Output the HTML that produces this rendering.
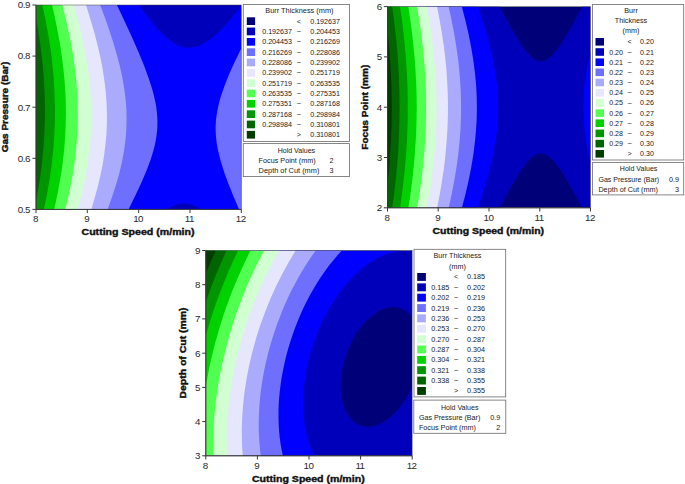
<!DOCTYPE html>
<html lang="en"><head><meta charset="utf-8"><title>Contour plots of Burr Thickness</title>
<style>
html,body{margin:0;padding:0;background:#fff}
svg{display:block;font-family:"Liberation Sans", sans-serif}
</style></head><body>
<svg width="685" height="484" viewBox="0 0 685 484">
<rect width="685" height="484" fill="#fff"/>
<clipPath id="c1"><rect x="36" y="5" width="205.3" height="204.4"/></clipPath>
<g clip-path="url(#c1)" shape-rendering="geometricPrecision">
<rect x="36" y="5" width="205.3" height="204.4" fill="#000078"/>
<path fill="#0000BA" d="M36.5 5.0L241.3 5.0L241.3 209.4L36.0 209.4L36.0 5.0Z"/>
<path fill="#0000FF" d="M36.5 5.0L138.9 5.0L146.6 15.6L153.3 24.0L156.9 28.2L160.0 31.5L163.1 34.6L166.2 37.4L169.3 39.9L172.4 42.1L175.4 43.9L178.0 45.2L181.1 46.4L183.7 47.1L186.2 47.5L188.8 47.7L191.4 47.6L194.5 47.1L197.0 46.4L200.1 45.3L202.7 44.0L205.8 42.3L208.9 40.2L212.0 37.9L215.1 35.3L218.7 32.0L221.7 28.9L225.3 25.1L229.0 21.1L233.1 16.3L241.3 6.0L241.3 209.4L201.2 209.4L199.1 208.0L196.5 206.6L194.5 205.7L192.4 204.9L190.4 204.2L188.3 203.8L186.2 203.5L184.2 203.4L182.1 203.5L180.1 203.7L178.0 204.1L175.4 204.9L173.4 205.7L170.8 206.8L166.4 209.4L36.0 209.4L36.0 5.0Z"/>
<path fill="#6E6EFF" d="M36.5 5.0L116.9 5.0L125.2 22.4L132.0 37.3L138.7 52.6L144.2 66.0L148.5 77.7L152.0 88.5L153.4 93.6L154.5 98.2L155.5 102.8L156.3 107.5L156.8 111.6L157.2 116.2L157.4 120.3L157.4 124.4L157.3 128.5L156.9 132.6L156.3 137.2L155.6 141.3L154.7 145.4L153.6 150.0L152.1 155.1L150.6 159.7L146.8 170.0L141.8 181.7L135.6 195.1L128.5 209.4L36.0 209.4L36.0 5.0ZM241.3 48.2L241.3 209.4L239.1 209.4L233.3 196.1L228.2 183.3L224.1 172.0L220.9 161.8L218.5 152.5L217.5 147.9L216.8 143.8L216.3 139.7L215.9 135.6L215.7 131.5L215.6 127.4L215.8 123.3L216.0 119.8L216.5 115.7L217.2 111.6L218.0 107.5L218.9 103.4L220.0 99.3L221.6 94.1L225.0 84.4L229.4 73.6L234.9 61.4Z"/>
<path fill="#AAAAFF" d="M36.5 5.0L100.1 5.0L104.4 16.3L108.2 27.0L112.8 40.9L116.6 53.7L119.7 65.4L122.3 77.2L124.2 88.5L125.6 99.3L126.4 109.5L126.6 119.8L126.3 130.0L125.9 135.6L125.4 140.8L124.0 151.0L122.0 161.8L119.4 173.0L116.0 184.8L112.2 196.6L107.6 209.4L36.0 209.4L36.0 5.0Z"/>
<path fill="#E6E6FF" d="M36.5 5.0L86.0 5.0L90.8 20.4L95.1 35.2L98.0 47.0L100.7 58.8L102.8 70.1L104.4 80.8L105.7 91.6L106.5 102.3L106.9 112.6L106.9 122.8L106.5 133.1L105.6 143.3L104.3 154.1L102.7 164.3L100.5 175.1L97.9 186.3L94.8 197.6L91.3 209.4L36.0 209.4L36.0 5.0Z"/>
<path fill="#D2FFD2" d="M36.5 5.0L73.5 5.0L76.7 16.3L79.5 27.0L81.9 37.3L84.1 47.5L86.1 58.3L87.8 68.5L89.1 78.8L90.1 89.0L90.8 99.3L91.2 109.0L91.3 118.7L91.0 128.5L90.4 138.2L89.6 147.9L88.3 158.2L86.8 167.9L85.0 178.2L82.8 188.4L80.3 198.6L77.5 209.4L36.0 209.4L36.0 5.0Z"/>
<path fill="#50FF50" d="M36.5 5.0L62.3 5.0L66.1 20.4L69.3 34.7L71.9 48.5L74.1 62.4L75.3 71.6L76.3 80.8L77.0 90.0L77.5 99.3L77.8 108.5L77.8 117.2L77.6 126.4L77.2 135.1L76.5 144.3L75.7 153.0L74.5 162.3L73.2 171.5L71.6 180.7L69.7 189.9L67.6 199.7L65.2 209.4L36.0 209.4L36.0 5.0Z"/>
<path fill="#00D200" d="M36.5 5.0L52.0 5.0L54.3 14.7L56.3 24.5L58.1 33.7L59.8 42.9L61.2 52.1L62.4 60.8L63.5 70.1L64.4 78.8L65.0 87.0L65.5 95.2L65.8 103.4L65.9 111.0L65.8 119.2L65.6 126.9L65.2 135.1L64.7 143.3L64.0 151.0L63.1 159.2L62.1 167.4L60.8 175.6L59.4 183.8L57.8 192.5L56.0 201.2L54.1 209.4L36.0 209.4L36.0 5.0Z"/>
<path fill="#009600" d="M36.5 5.0L42.4 5.0L45.4 19.3L47.3 29.6L49.0 39.3L50.5 49.1L51.7 58.8L52.8 68.5L53.6 77.7L54.3 87.5L54.7 96.7L55.0 110.5L54.8 124.4L54.2 138.2L53.1 152.0L51.5 165.9L49.5 180.2L47.0 194.5L43.9 209.4L36.0 209.4L36.0 5.0Z"/>
<path fill="#006400" d="M36.1 18.8L38.2 30.6L40.0 42.4L41.5 54.2L42.8 66.0L43.7 77.2L44.4 88.5L44.8 99.8L45.0 111.0L44.8 121.8L44.4 133.1L43.7 144.3L42.7 155.6L41.5 166.9L40.0 178.2L38.2 189.4L36.0 201.5L36.0 18.3Z"/>
</g>
<rect x="36" y="5" width="205.3" height="204.4" fill="none" stroke="#404040" stroke-opacity=".6" stroke-width=".8"/>
<path d="M36 5V209.4H241.3M36.0 209.4v3.7M87.3 209.4v3.7M138.7 209.4v3.7M190.0 209.4v3.7M241.3 209.4v3.7M36 5.0h-3.6M36 56.1h-3.6M36 107.2h-3.6M36 158.3h-3.6M36 209.4h-3.6" fill="none" stroke="#383838" stroke-width="1"/>
<text x="35.4" y="222.2" font-size="9.8" text-anchor="middle" fill="#2a2a2a" letter-spacing="-.55">8</text>
<text x="86.7" y="222.2" font-size="9.8" text-anchor="middle" fill="#2a2a2a" letter-spacing="-.55">9</text>
<text x="138.1" y="222.2" font-size="9.8" text-anchor="middle" fill="#2a2a2a" letter-spacing="-.55">10</text>
<text x="189.4" y="222.2" font-size="9.8" text-anchor="middle" fill="#2a2a2a" letter-spacing="-.55">11</text>
<text x="240.7" y="222.2" font-size="9.8" text-anchor="middle" fill="#2a2a2a" letter-spacing="-.55">12</text>
<text x="29.8" y="8.3" font-size="9.8" text-anchor="end" fill="#2a2a2a" letter-spacing="-.55">0.9</text>
<text x="29.8" y="59.4" font-size="9.8" text-anchor="end" fill="#2a2a2a" letter-spacing="-.55">0.8</text>
<text x="29.8" y="110.5" font-size="9.8" text-anchor="end" fill="#2a2a2a" letter-spacing="-.55">0.7</text>
<text x="29.8" y="161.6" font-size="9.8" text-anchor="end" fill="#2a2a2a" letter-spacing="-.55">0.6</text>
<text x="29.8" y="212.7" font-size="9.8" text-anchor="end" fill="#2a2a2a" letter-spacing="-.55">0.5</text>
<text x="138.0" y="234.8" font-size="9.4" text-anchor="middle" font-weight="bold" textLength="113.0" lengthAdjust="spacingAndGlyphs" fill="#111" stroke="#111" stroke-width=".4">Cutting Speed (m/min)</text>
<text x="6.3" y="107.0" font-size="9.4" text-anchor="middle" font-weight="bold" textLength="90.5" lengthAdjust="spacingAndGlyphs" fill="#111" stroke="#111" stroke-width=".4" transform="rotate(-90 6.3 107.0)" dy="2.1">Gas Pressure (Bar)</text>
<rect x="243.3" y="4.5" width="106.2" height="136.9" fill="#fff" stroke="#6a6a6a" stroke-width=".8"/>
<text x="299.4" y="12.9" font-size="8" text-anchor="middle" textLength="68.2" lengthAdjust="spacingAndGlyphs" fill="#1a1a1a">Burr Thickness (mm)</text>
<rect x="246.8" y="17.3" width="8.3" height="7.7" fill="#000078"/>
<text x="298.8" y="23.7" font-size="7.2" text-anchor="middle" fill="#1a1a1a">&lt;</text>
<text x="340.0" y="23.7" font-size="8" text-anchor="end" textLength="29.8" lengthAdjust="spacingAndGlyphs" fill="#1a1a1a">0.192637</text>
<rect x="246.8" y="27.6" width="8.3" height="7.7" fill="#0000BA"/>
<text x="262.2" y="34.0" font-size="8" textLength="29.8" lengthAdjust="spacingAndGlyphs" fill="#1a1a1a">0.192637</text>
<text x="298.8" y="33.1" font-size="6.8" text-anchor="middle" fill="#1a1a1a">–</text>
<text x="340.0" y="34.0" font-size="8" text-anchor="end" textLength="29.8" lengthAdjust="spacingAndGlyphs" fill="#1a1a1a">0.204453</text>
<rect x="246.8" y="38.0" width="8.3" height="7.7" fill="#0000FF"/>
<text x="262.2" y="44.3" font-size="8" textLength="29.8" lengthAdjust="spacingAndGlyphs" fill="#1a1a1a">0.204453</text>
<text x="298.8" y="43.4" font-size="6.8" text-anchor="middle" fill="#1a1a1a">–</text>
<text x="340.0" y="44.3" font-size="8" text-anchor="end" textLength="29.8" lengthAdjust="spacingAndGlyphs" fill="#1a1a1a">0.216269</text>
<rect x="246.8" y="48.3" width="8.3" height="7.7" fill="#6E6EFF"/>
<text x="262.2" y="54.6" font-size="8" textLength="29.8" lengthAdjust="spacingAndGlyphs" fill="#1a1a1a">0.216269</text>
<text x="298.8" y="53.7" font-size="6.8" text-anchor="middle" fill="#1a1a1a">–</text>
<text x="340.0" y="54.6" font-size="8" text-anchor="end" textLength="29.8" lengthAdjust="spacingAndGlyphs" fill="#1a1a1a">0.228086</text>
<rect x="246.8" y="58.6" width="8.3" height="7.7" fill="#AAAAFF"/>
<text x="262.2" y="65.0" font-size="8" textLength="29.8" lengthAdjust="spacingAndGlyphs" fill="#1a1a1a">0.228086</text>
<text x="298.8" y="64.1" font-size="6.8" text-anchor="middle" fill="#1a1a1a">–</text>
<text x="340.0" y="65.0" font-size="8" text-anchor="end" textLength="29.8" lengthAdjust="spacingAndGlyphs" fill="#1a1a1a">0.239902</text>
<rect x="246.8" y="69.0" width="8.3" height="7.7" fill="#E6E6FF"/>
<text x="262.2" y="75.3" font-size="8" textLength="29.8" lengthAdjust="spacingAndGlyphs" fill="#1a1a1a">0.239902</text>
<text x="298.8" y="74.4" font-size="6.8" text-anchor="middle" fill="#1a1a1a">–</text>
<text x="340.0" y="75.3" font-size="8" text-anchor="end" textLength="29.8" lengthAdjust="spacingAndGlyphs" fill="#1a1a1a">0.251719</text>
<rect x="246.8" y="79.3" width="8.3" height="7.7" fill="#D2FFD2"/>
<text x="262.2" y="85.6" font-size="8" textLength="29.8" lengthAdjust="spacingAndGlyphs" fill="#1a1a1a">0.251719</text>
<text x="298.8" y="84.7" font-size="6.8" text-anchor="middle" fill="#1a1a1a">–</text>
<text x="340.0" y="85.6" font-size="8" text-anchor="end" textLength="29.8" lengthAdjust="spacingAndGlyphs" fill="#1a1a1a">0.263535</text>
<rect x="246.8" y="89.6" width="8.3" height="7.7" fill="#50FF50"/>
<text x="262.2" y="96.0" font-size="8" textLength="29.8" lengthAdjust="spacingAndGlyphs" fill="#1a1a1a">0.263535</text>
<text x="298.8" y="95.1" font-size="6.8" text-anchor="middle" fill="#1a1a1a">–</text>
<text x="340.0" y="96.0" font-size="8" text-anchor="end" textLength="29.8" lengthAdjust="spacingAndGlyphs" fill="#1a1a1a">0.275351</text>
<rect x="246.8" y="99.9" width="8.3" height="7.7" fill="#00D200"/>
<text x="262.2" y="106.3" font-size="8" textLength="29.8" lengthAdjust="spacingAndGlyphs" fill="#1a1a1a">0.275351</text>
<text x="298.8" y="105.4" font-size="6.8" text-anchor="middle" fill="#1a1a1a">–</text>
<text x="340.0" y="106.3" font-size="8" text-anchor="end" textLength="29.8" lengthAdjust="spacingAndGlyphs" fill="#1a1a1a">0.287168</text>
<rect x="246.8" y="110.3" width="8.3" height="7.7" fill="#009600"/>
<text x="262.2" y="116.6" font-size="8" textLength="29.8" lengthAdjust="spacingAndGlyphs" fill="#1a1a1a">0.287168</text>
<text x="298.8" y="115.7" font-size="6.8" text-anchor="middle" fill="#1a1a1a">–</text>
<text x="340.0" y="116.6" font-size="8" text-anchor="end" textLength="29.8" lengthAdjust="spacingAndGlyphs" fill="#1a1a1a">0.298984</text>
<rect x="246.8" y="120.6" width="8.3" height="7.7" fill="#006400"/>
<text x="262.2" y="126.9" font-size="8" textLength="29.8" lengthAdjust="spacingAndGlyphs" fill="#1a1a1a">0.298984</text>
<text x="298.8" y="126.0" font-size="6.8" text-anchor="middle" fill="#1a1a1a">–</text>
<text x="340.0" y="126.9" font-size="8" text-anchor="end" textLength="29.8" lengthAdjust="spacingAndGlyphs" fill="#1a1a1a">0.310801</text>
<rect x="246.8" y="130.9" width="8.3" height="7.7" fill="#003C00"/>
<text x="298.8" y="137.3" font-size="7.2" text-anchor="middle" fill="#1a1a1a">&gt;</text>
<text x="340.0" y="137.3" font-size="8" text-anchor="end" textLength="29.8" lengthAdjust="spacingAndGlyphs" fill="#1a1a1a">0.310801</text>
<rect x="243.3" y="143.6" width="106.2" height="33.0" fill="#fff" stroke="#6a6a6a" stroke-width=".8"/>
<text x="296.4" y="152.8" font-size="8" text-anchor="middle" textLength="37.5" lengthAdjust="spacingAndGlyphs" fill="#1a1a1a">Hold Values</text>
<text x="258.6" y="163.0" font-size="8" textLength="57.1" lengthAdjust="spacingAndGlyphs" fill="#1a1a1a">Focus Point (mm)</text>
<text x="333.5" y="163.0" font-size="8" text-anchor="end" textLength="4.0" lengthAdjust="spacingAndGlyphs" fill="#1a1a1a">2</text>
<text x="258.6" y="172.9" font-size="8" textLength="60.8" lengthAdjust="spacingAndGlyphs" fill="#1a1a1a">Depth of Cut (mm)</text>
<text x="333.5" y="172.9" font-size="8" text-anchor="end" textLength="4.0" lengthAdjust="spacingAndGlyphs" fill="#1a1a1a">3</text>
<clipPath id="c2"><rect x="387.5" y="6.6" width="203.0" height="201.2"/></clipPath>
<g clip-path="url(#c2)" shape-rendering="geometricPrecision">
<rect x="387.5" y="6.6" width="203.0" height="201.2" fill="#000078"/>
<path fill="#0000BA" d="M388.0 6.6L499.5 6.6L507.1 20.8L513.7 32.6L519.3 41.8L521.8 45.6L524.4 49.1L526.9 52.3L528.9 54.6L531.0 56.6L533.0 58.3L535.0 59.7L537.1 60.6L539.1 61.2L540.6 61.3L542.2 61.2L544.2 60.7L546.2 59.8L548.3 58.5L550.3 56.8L552.3 54.9L554.4 52.6L556.9 49.4L559.5 45.9L562.0 42.1L567.6 33.0L574.2 21.2L582.0 6.6L590.5 6.6L590.5 207.8L581.8 207.8L574.2 193.5L567.6 181.7L562.0 172.6L559.5 168.8L556.9 165.3L554.4 162.1L552.3 159.9L550.3 157.9L548.3 156.3L546.2 155.0L544.2 154.0L542.2 153.5L540.6 153.4L539.1 153.6L537.1 154.1L535.0 155.1L533.0 156.4L531.0 158.1L528.9 160.1L526.9 162.4L524.4 165.6L521.8 169.2L519.3 173.0L513.7 182.1L507.1 193.9L499.7 207.8L387.5 207.8L387.5 6.6Z"/>
<path fill="#0000FF" d="M388.0 6.6L477.8 6.6L482.9 22.2L487.1 36.4L490.6 50.0L493.4 62.6L494.6 68.6L495.6 74.7L497.0 85.8L497.5 91.3L497.9 96.9L498.1 107.5L497.9 118.0L497.5 123.6L497.0 129.1L495.6 140.2L494.5 146.3L493.4 152.3L490.6 164.9L487.0 178.6L482.8 192.7L477.9 207.8L387.5 207.8L387.5 6.6ZM590.5 51.5L590.5 163.2L588.7 155.4L587.3 148.3L586.1 141.2L585.1 134.2L584.3 127.1L583.8 120.6L583.5 114.0L583.4 107.5L583.5 100.9L583.8 94.3L584.3 87.8L585.1 80.7L586.1 73.7L587.3 66.6L588.8 59.0Z"/>
<path fill="#6E6EFF" d="M388.0 6.6L461.8 6.6L465.5 20.7L468.6 34.3L471.2 47.4L473.2 59.5L474.8 71.6L476.0 83.8L476.7 95.9L476.9 107.5L476.7 119.1L476.0 130.6L474.8 142.8L473.3 154.9L471.2 167.5L468.7 180.1L465.6 193.7L461.9 207.8L387.5 207.8L387.5 6.6Z"/>
<path fill="#AAAAFF" d="M388.0 6.6L448.6 6.6L451.7 20.7L454.2 33.8L456.3 46.4L458.1 59.0L459.4 71.6L460.4 83.8L460.9 95.9L461.1 107.5L460.9 119.1L460.4 131.2L459.4 143.3L458.1 155.9L456.3 168.5L454.2 181.1L451.7 194.2L448.7 207.8L387.5 207.8L387.5 6.6Z"/>
<path fill="#E6E6FF" d="M388.0 6.6L437.0 6.6L439.6 19.7L441.8 32.8L443.8 45.9L445.3 58.5L446.5 70.6L447.3 83.2L447.8 95.3L448.0 107.5L447.8 119.6L447.3 131.7L446.4 144.3L445.3 156.4L443.8 169.0L441.9 181.6L439.7 194.7L437.1 207.8L387.5 207.8L387.5 6.6Z"/>
<path fill="#D2FFD2" d="M388.0 6.6L426.7 6.6L429.0 19.7L431.0 32.8L432.7 45.4L434.0 58.0L435.1 70.6L435.9 82.7L436.3 94.8L436.5 107.5L436.3 119.6L435.9 131.7L435.2 143.8L434.1 156.4L432.7 169.0L431.1 181.6L429.0 194.7L426.7 207.8L387.5 207.8L387.5 6.6Z"/>
<path fill="#50FF50" d="M388.0 6.6L417.1 6.6L419.9 24.2L421.5 35.8L422.9 47.4L424.0 59.0L424.9 70.6L425.5 81.7L426.0 93.3L426.1 104.4L426.1 115.5L425.8 126.6L425.3 138.2L424.5 149.8L423.5 160.9L422.3 172.5L420.8 184.1L419.2 195.7L417.2 207.8L387.5 207.8L387.5 6.6Z"/>
<path fill="#00D200" d="M388.0 6.6L408.3 6.6L409.8 16.7L411.2 26.8L412.5 36.9L413.5 46.4L414.5 56.5L415.3 66.6L415.8 76.2L416.3 86.3L416.6 96.4L416.7 106.4L416.6 116.0L416.4 126.1L416.0 136.2L415.4 146.3L414.6 156.4L413.7 166.5L412.7 176.5L411.4 187.1L410.0 197.2L408.4 207.8L387.5 207.8L387.5 6.6Z"/>
<path fill="#009600" d="M388.0 6.6L400.0 6.6L402.3 22.7L404.1 38.4L405.6 54.0L406.7 69.6L407.5 86.8L407.8 103.9L407.7 120.6L407.1 137.7L406.1 154.9L404.5 172.5L402.5 190.2L400.1 207.8L387.5 207.8L387.5 6.6Z"/>
<path fill="#006400" d="M388.0 6.6L392.2 6.6L393.4 15.7L395.8 35.3L397.6 55.0L398.8 74.2L399.4 93.3L399.6 107.5L399.4 121.6L399.0 135.7L398.3 149.8L397.2 163.9L395.9 178.6L394.2 193.2L392.2 207.8L387.5 207.8L387.5 6.6Z"/>
<path fill="#003C00" d="M387.5 29.3L389.4 49.0L390.7 68.6L391.5 88.3L391.8 107.5L391.5 126.6L390.7 146.3L389.4 165.9L387.5 185.7Z"/>
</g>
<rect x="387.5" y="6.6" width="203.0" height="201.2" fill="none" stroke="#404040" stroke-opacity=".6" stroke-width=".8"/>
<path d="M387.5 6.6V207.8H590.5M387.5 207.8v3.7M438.2 207.8v3.7M489.0 207.8v3.7M539.8 207.8v3.7M590.5 207.8v3.7M387.5 6.6h-3.6M387.5 56.9h-3.6M387.5 107.2h-3.6M387.5 157.5h-3.6M387.5 207.8h-3.6" fill="none" stroke="#383838" stroke-width="1"/>
<text x="386.9" y="220.8" font-size="9.8" text-anchor="middle" fill="#2a2a2a" letter-spacing="-.55">8</text>
<text x="437.6" y="220.8" font-size="9.8" text-anchor="middle" fill="#2a2a2a" letter-spacing="-.55">9</text>
<text x="488.4" y="220.8" font-size="9.8" text-anchor="middle" fill="#2a2a2a" letter-spacing="-.55">10</text>
<text x="539.1" y="220.8" font-size="9.8" text-anchor="middle" fill="#2a2a2a" letter-spacing="-.55">11</text>
<text x="589.9" y="220.8" font-size="9.8" text-anchor="middle" fill="#2a2a2a" letter-spacing="-.55">12</text>
<text x="381.6" y="9.9" font-size="9.8" text-anchor="end" fill="#2a2a2a" letter-spacing="-.55">6</text>
<text x="381.6" y="60.2" font-size="9.8" text-anchor="end" fill="#2a2a2a" letter-spacing="-.55">5</text>
<text x="381.6" y="110.5" font-size="9.8" text-anchor="end" fill="#2a2a2a" letter-spacing="-.55">4</text>
<text x="381.6" y="160.8" font-size="9.8" text-anchor="end" fill="#2a2a2a" letter-spacing="-.55">3</text>
<text x="381.6" y="211.1" font-size="9.8" text-anchor="end" fill="#2a2a2a" letter-spacing="-.55">2</text>
<text x="488.3" y="233.8" font-size="9.4" text-anchor="middle" font-weight="bold" textLength="111.6" lengthAdjust="spacingAndGlyphs" fill="#111" stroke="#111" stroke-width=".4">Cutting Speed (m/min)</text>
<text x="365.6" y="107.2" font-size="9.4" text-anchor="middle" font-weight="bold" textLength="85.0" lengthAdjust="spacingAndGlyphs" fill="#111" stroke="#111" stroke-width=".4" transform="rotate(-90 365.6 107.2)" dy="2.1">Focus Point (mm)</text>
<rect x="592.4" y="4.6" width="91.3" height="155.4" fill="#fff" stroke="#6a6a6a" stroke-width=".8"/>
<text x="631.0" y="13.2" font-size="8" text-anchor="middle" textLength="13.6" lengthAdjust="spacingAndGlyphs" fill="#1a1a1a">Burr</text>
<text x="631.0" y="23.1" font-size="8" text-anchor="middle" textLength="32.4" lengthAdjust="spacingAndGlyphs" fill="#1a1a1a">Thickness</text>
<text x="631.0" y="33.2" font-size="8" text-anchor="middle" textLength="16.8" lengthAdjust="spacingAndGlyphs" fill="#1a1a1a">(mm)</text>
<rect x="595.5" y="38.0" width="8.5" height="7.6" fill="#000078"/>
<text x="629.7" y="44.3" font-size="7.2" text-anchor="middle" fill="#1a1a1a">&lt;</text>
<text x="653.9" y="44.3" font-size="8" text-anchor="end" textLength="13.8" lengthAdjust="spacingAndGlyphs" fill="#1a1a1a">0.20</text>
<rect x="595.5" y="48.2" width="8.5" height="7.6" fill="#0000BA"/>
<text x="609.2" y="54.5" font-size="8" textLength="13.8" lengthAdjust="spacingAndGlyphs" fill="#1a1a1a">0.20</text>
<text x="629.7" y="53.6" font-size="6.8" text-anchor="middle" fill="#1a1a1a">–</text>
<text x="653.9" y="54.5" font-size="8" text-anchor="end" textLength="13.8" lengthAdjust="spacingAndGlyphs" fill="#1a1a1a">0.21</text>
<rect x="595.5" y="58.4" width="8.5" height="7.6" fill="#0000FF"/>
<text x="609.2" y="64.7" font-size="8" textLength="13.8" lengthAdjust="spacingAndGlyphs" fill="#1a1a1a">0.21</text>
<text x="629.7" y="63.8" font-size="6.8" text-anchor="middle" fill="#1a1a1a">–</text>
<text x="653.9" y="64.7" font-size="8" text-anchor="end" textLength="13.8" lengthAdjust="spacingAndGlyphs" fill="#1a1a1a">0.22</text>
<rect x="595.5" y="68.5" width="8.5" height="7.6" fill="#6E6EFF"/>
<text x="609.2" y="74.8" font-size="8" textLength="13.8" lengthAdjust="spacingAndGlyphs" fill="#1a1a1a">0.22</text>
<text x="629.7" y="73.9" font-size="6.8" text-anchor="middle" fill="#1a1a1a">–</text>
<text x="653.9" y="74.8" font-size="8" text-anchor="end" textLength="13.8" lengthAdjust="spacingAndGlyphs" fill="#1a1a1a">0.23</text>
<rect x="595.5" y="78.7" width="8.5" height="7.6" fill="#AAAAFF"/>
<text x="609.2" y="85.0" font-size="8" textLength="13.8" lengthAdjust="spacingAndGlyphs" fill="#1a1a1a">0.23</text>
<text x="629.7" y="84.1" font-size="6.8" text-anchor="middle" fill="#1a1a1a">–</text>
<text x="653.9" y="85.0" font-size="8" text-anchor="end" textLength="13.8" lengthAdjust="spacingAndGlyphs" fill="#1a1a1a">0.24</text>
<rect x="595.5" y="88.9" width="8.5" height="7.6" fill="#E6E6FF"/>
<text x="609.2" y="95.2" font-size="8" textLength="13.8" lengthAdjust="spacingAndGlyphs" fill="#1a1a1a">0.24</text>
<text x="629.7" y="94.3" font-size="6.8" text-anchor="middle" fill="#1a1a1a">–</text>
<text x="653.9" y="95.2" font-size="8" text-anchor="end" textLength="13.8" lengthAdjust="spacingAndGlyphs" fill="#1a1a1a">0.25</text>
<rect x="595.5" y="99.1" width="8.5" height="7.6" fill="#D2FFD2"/>
<text x="609.2" y="105.4" font-size="8" textLength="13.8" lengthAdjust="spacingAndGlyphs" fill="#1a1a1a">0.25</text>
<text x="629.7" y="104.5" font-size="6.8" text-anchor="middle" fill="#1a1a1a">–</text>
<text x="653.9" y="105.4" font-size="8" text-anchor="end" textLength="13.8" lengthAdjust="spacingAndGlyphs" fill="#1a1a1a">0.26</text>
<rect x="595.5" y="109.3" width="8.5" height="7.6" fill="#50FF50"/>
<text x="609.2" y="115.6" font-size="8" textLength="13.8" lengthAdjust="spacingAndGlyphs" fill="#1a1a1a">0.26</text>
<text x="629.7" y="114.7" font-size="6.8" text-anchor="middle" fill="#1a1a1a">–</text>
<text x="653.9" y="115.6" font-size="8" text-anchor="end" textLength="13.8" lengthAdjust="spacingAndGlyphs" fill="#1a1a1a">0.27</text>
<rect x="595.5" y="119.4" width="8.5" height="7.6" fill="#00D200"/>
<text x="609.2" y="125.7" font-size="8" textLength="13.8" lengthAdjust="spacingAndGlyphs" fill="#1a1a1a">0.27</text>
<text x="629.7" y="124.8" font-size="6.8" text-anchor="middle" fill="#1a1a1a">–</text>
<text x="653.9" y="125.7" font-size="8" text-anchor="end" textLength="13.8" lengthAdjust="spacingAndGlyphs" fill="#1a1a1a">0.28</text>
<rect x="595.5" y="129.6" width="8.5" height="7.6" fill="#009600"/>
<text x="609.2" y="135.9" font-size="8" textLength="13.8" lengthAdjust="spacingAndGlyphs" fill="#1a1a1a">0.28</text>
<text x="629.7" y="135.0" font-size="6.8" text-anchor="middle" fill="#1a1a1a">–</text>
<text x="653.9" y="135.9" font-size="8" text-anchor="end" textLength="13.8" lengthAdjust="spacingAndGlyphs" fill="#1a1a1a">0.29</text>
<rect x="595.5" y="139.8" width="8.5" height="7.6" fill="#006400"/>
<text x="609.2" y="146.1" font-size="8" textLength="13.8" lengthAdjust="spacingAndGlyphs" fill="#1a1a1a">0.29</text>
<text x="629.7" y="145.2" font-size="6.8" text-anchor="middle" fill="#1a1a1a">–</text>
<text x="653.9" y="146.1" font-size="8" text-anchor="end" textLength="13.8" lengthAdjust="spacingAndGlyphs" fill="#1a1a1a">0.30</text>
<rect x="595.5" y="150.0" width="8.5" height="7.6" fill="#003C00"/>
<text x="629.7" y="156.3" font-size="7.2" text-anchor="middle" fill="#1a1a1a">&gt;</text>
<text x="653.9" y="156.3" font-size="8" text-anchor="end" textLength="13.8" lengthAdjust="spacingAndGlyphs" fill="#1a1a1a">0.30</text>
<rect x="592.4" y="162.6" width="91.3" height="32.3" fill="#fff" stroke="#6a6a6a" stroke-width=".8"/>
<text x="638.6" y="171.3" font-size="8" text-anchor="middle" textLength="37.5" lengthAdjust="spacingAndGlyphs" fill="#1a1a1a">Hold Values</text>
<text x="598.4" y="181.8" font-size="8" textLength="60.8" lengthAdjust="spacingAndGlyphs" fill="#1a1a1a">Gas Pressure (Bar)</text>
<text x="679.0" y="181.8" font-size="8" text-anchor="end" textLength="10.0" lengthAdjust="spacingAndGlyphs" fill="#1a1a1a">0.9</text>
<text x="598.4" y="191.7" font-size="8" textLength="59.6" lengthAdjust="spacingAndGlyphs" fill="#1a1a1a">Depth of Cut (mm)</text>
<text x="679.0" y="191.7" font-size="8" text-anchor="end" textLength="4.0" lengthAdjust="spacingAndGlyphs" fill="#1a1a1a">3</text>
<clipPath id="c3"><rect x="205.8" y="250.5" width="206.4" height="205.3"/></clipPath>
<g clip-path="url(#c3)" shape-rendering="geometricPrecision">
<rect x="205.8" y="250.5" width="206.4" height="205.3" fill="#000078"/>
<path fill="#0000BA" d="M206.3 250.5L412.2 250.5L412.2 317.8L410.1 315.2L408.1 313.1L405.8 311.2L403.4 309.8L400.8 308.6L397.7 307.7L395.1 307.3L392.0 307.2L388.9 307.5L385.8 308.2L382.7 309.2L379.6 310.6L376.5 312.4L373.4 314.4L370.3 316.9L367.7 319.2L364.6 322.4L362.0 325.4L359.4 328.7L356.8 332.5L354.4 336.4L352.1 340.5L350.1 344.7L348.1 349.3L346.3 353.9L344.8 358.6L343.6 363.2L342.5 367.8L341.7 372.4L341.1 377.1L340.8 381.7L340.7 385.8L340.8 390.5L341.2 394.6L341.8 398.7L342.6 402.3L343.7 405.9L345.0 409.3L346.5 412.5L348.1 415.2L350.1 418.0L352.2 420.2L354.3 422.0L356.8 423.7L359.4 425.0L362.0 425.9L364.6 426.4L367.7 426.7L370.8 426.5L373.8 426.0L377.0 425.0L379.8 423.9L382.7 422.4L385.8 420.5L388.9 418.3L392.0 415.6L395.1 412.6L397.9 409.5L400.8 405.9L403.4 402.3L406.0 398.2L408.1 394.5L410.1 390.5L412.2 385.9L412.2 455.8L205.8 455.8L205.8 250.5Z"/>
<path fill="#0000FF" d="M206.3 250.5L412.2 250.5L412.2 251.2L409.1 250.8L405.5 250.6L402.4 250.6L398.8 251.0L396.2 251.3L393.1 252.0L390.5 252.7L387.4 253.7L384.3 254.8L381.2 256.2L375.5 259.1L372.4 260.9L369.4 262.8L363.6 267.2L360.5 269.7L357.4 272.5L351.7 278.1L346.0 284.4L340.8 290.9L335.6 298.1L330.9 305.6L326.3 313.6L322.2 321.8L318.4 330.3L314.9 339.1L311.9 348.3L309.2 357.5L307.0 366.8L305.3 376.0L304.1 385.3L303.3 394.1L303.0 402.8L303.2 411.5L303.9 419.8L305.1 428.0L306.8 435.7L307.7 439.3L308.9 442.9L310.2 446.5L311.4 449.6L312.9 452.8L314.4 455.8L205.8 455.8L205.8 250.5ZM412.2 452.5L412.2 455.8L409.1 455.8Z"/>
<path fill="#6E6EFF" d="M206.3 250.5L341.9 250.5L337.7 255.1L333.6 259.9L329.4 265.1L325.3 270.7L321.2 276.6L317.5 282.2L313.9 288.2L310.3 294.6L306.9 300.9L303.6 307.6L300.6 314.3L297.9 320.7L295.3 327.2L292.7 334.4L290.5 341.1L288.3 348.3L286.3 355.5L284.6 362.7L283.1 369.9L281.8 376.6L280.8 383.3L279.9 390.5L279.2 397.1L278.7 404.3L278.5 411.0L278.5 417.7L278.7 424.4L279.1 431.1L279.7 437.8L280.6 444.0L281.7 450.1L282.9 455.8L205.8 455.8L205.8 250.5Z"/>
<path fill="#AAAAFF" d="M206.3 250.5L315.8 250.5L311.8 256.0L308.2 261.4L304.6 267.1L301.0 273.1L297.7 278.8L294.4 285.0L291.2 291.1L288.2 297.3L285.4 303.5L282.5 310.2L279.9 316.9L277.3 323.6L275.0 330.3L272.8 336.9L270.8 343.6L268.9 350.3L267.2 357.0L265.6 363.7L264.2 370.4L262.9 377.6L261.7 384.8L260.8 391.5L260.1 398.2L259.5 404.9L259.1 411.5L258.8 418.2L258.7 424.9L258.8 431.1L259.1 437.3L259.5 443.5L260.1 449.6L260.8 455.8L205.8 455.8L205.8 250.5Z"/>
<path fill="#E6E6FF" d="M206.3 250.5L295.7 250.5L288.9 261.8L282.4 273.7L276.2 286.0L270.5 298.6L265.3 311.4L260.5 324.6L256.2 338.0L252.5 351.3L249.3 364.7L246.7 378.1L244.6 391.5L243.1 404.9L242.6 411.5L242.2 418.2L241.9 424.9L241.8 431.1L242.0 443.5L242.3 449.6L242.8 455.8L205.8 455.8L205.8 250.5Z"/>
<path fill="#D2FFD2" d="M206.3 250.5L278.9 250.5L272.5 261.9L266.3 274.2L260.5 286.5L255.1 299.4L250.3 311.9L245.7 325.1L241.8 338.0L238.2 351.3L235.0 364.7L232.4 378.1L230.2 391.5L228.6 404.9L227.5 417.7L226.8 430.6L226.7 443.5L227.1 455.8L205.8 455.8L205.8 250.5Z"/>
<path fill="#50FF50" d="M206.3 250.5L264.0 250.5L257.8 262.3L251.9 274.7L246.5 287.0L241.5 299.5L236.8 312.2L232.4 325.6L228.5 338.5L225.0 351.9L221.9 365.2L219.2 378.6L217.1 391.5L215.4 404.9L214.1 417.7L213.3 430.6L213.0 443.5L213.1 455.8L205.8 455.8L205.8 250.5Z"/>
<path fill="#00D200" d="M206.3 250.5L250.5 250.5L246.7 258.2L242.8 266.5L239.1 274.7L235.6 282.9L232.2 291.1L229.1 299.4L225.9 308.1L222.9 316.9L220.3 325.2L217.7 333.9L215.3 342.6L213.0 351.4L211.0 360.1L209.1 368.8L207.4 377.8L205.8 386.7L205.8 250.5Z"/>
<path fill="#009600" d="M206.3 250.5L238.2 250.5L233.3 260.8L228.7 271.1L224.4 281.4L220.1 292.2L216.2 303.0L212.5 313.8L208.9 325.1L205.8 335.9L205.8 250.5Z"/>
<path fill="#006400" d="M206.3 250.5L226.6 250.5L220.8 263.4L215.6 275.7L210.6 288.6L205.8 301.7L205.8 250.5Z"/>
<path fill="#003C00" d="M206.3 250.5L215.8 250.5L210.6 262.3L205.8 274.0L205.8 250.5Z"/>
</g>
<rect x="205.8" y="250.5" width="206.4" height="205.3" fill="none" stroke="#404040" stroke-opacity=".6" stroke-width=".8"/>
<path d="M205.8 250.5V455.8H412.2M205.8 455.8v3.7M257.4 455.8v3.7M309.0 455.8v3.7M360.6 455.8v3.7M412.2 455.8v3.7M205.8 250.5h-3.6M205.8 284.7h-3.6M205.8 318.9h-3.6M205.8 353.2h-3.6M205.8 387.4h-3.6M205.8 421.6h-3.6M205.8 455.8h-3.6" fill="none" stroke="#383838" stroke-width="1"/>
<text x="205.2" y="468.7" font-size="9.8" text-anchor="middle" fill="#2a2a2a" letter-spacing="-.55">8</text>
<text x="256.8" y="468.7" font-size="9.8" text-anchor="middle" fill="#2a2a2a" letter-spacing="-.55">9</text>
<text x="308.4" y="468.7" font-size="9.8" text-anchor="middle" fill="#2a2a2a" letter-spacing="-.55">10</text>
<text x="360.0" y="468.7" font-size="9.8" text-anchor="middle" fill="#2a2a2a" letter-spacing="-.55">11</text>
<text x="411.6" y="468.7" font-size="9.8" text-anchor="middle" fill="#2a2a2a" letter-spacing="-.55">12</text>
<text x="199.8" y="253.8" font-size="9.8" text-anchor="end" fill="#2a2a2a" letter-spacing="-.55">9</text>
<text x="199.8" y="288.0" font-size="9.8" text-anchor="end" fill="#2a2a2a" letter-spacing="-.55">8</text>
<text x="199.8" y="322.2" font-size="9.8" text-anchor="end" fill="#2a2a2a" letter-spacing="-.55">7</text>
<text x="199.8" y="356.5" font-size="9.8" text-anchor="end" fill="#2a2a2a" letter-spacing="-.55">6</text>
<text x="199.8" y="390.7" font-size="9.8" text-anchor="end" fill="#2a2a2a" letter-spacing="-.55">5</text>
<text x="199.8" y="424.9" font-size="9.8" text-anchor="end" fill="#2a2a2a" letter-spacing="-.55">4</text>
<text x="199.8" y="459.1" font-size="9.8" text-anchor="end" fill="#2a2a2a" letter-spacing="-.55">3</text>
<text x="308.3" y="481.6" font-size="9.4" text-anchor="middle" font-weight="bold" textLength="112.8" lengthAdjust="spacingAndGlyphs" fill="#111" stroke="#111" stroke-width=".4">Cutting Speed (m/min)</text>
<text x="184.2" y="353.0" font-size="9.4" text-anchor="middle" font-weight="bold" textLength="91.2" lengthAdjust="spacingAndGlyphs" fill="#111" stroke="#111" stroke-width=".4" transform="rotate(-90 184.2 353.0)" dy="2.1">Depth of Cut (mm)</text>
<rect x="414" y="249.3" width="91.7" height="147.6" fill="#fff" stroke="#6a6a6a" stroke-width=".8"/>
<text x="457.5" y="258.3" font-size="8" text-anchor="middle" textLength="47.9" lengthAdjust="spacingAndGlyphs" fill="#1a1a1a">Burr Thickness</text>
<text x="457.5" y="268.6" font-size="8" text-anchor="middle" textLength="16.8" lengthAdjust="spacingAndGlyphs" fill="#1a1a1a">(mm)</text>
<rect x="417.2" y="273.0" width="8.7" height="7.9" fill="#000078"/>
<text x="456.2" y="279.4" font-size="7.2" text-anchor="middle" fill="#1a1a1a">&lt;</text>
<text x="485.0" y="279.4" font-size="8" text-anchor="end" textLength="18.0" lengthAdjust="spacingAndGlyphs" fill="#1a1a1a">0.185</text>
<rect x="417.2" y="283.4" width="8.7" height="7.9" fill="#0000BA"/>
<text x="431.2" y="289.8" font-size="8" textLength="18.0" lengthAdjust="spacingAndGlyphs" fill="#1a1a1a">0.185</text>
<text x="456.2" y="288.9" font-size="6.8" text-anchor="middle" fill="#1a1a1a">–</text>
<text x="485.0" y="289.8" font-size="8" text-anchor="end" textLength="18.0" lengthAdjust="spacingAndGlyphs" fill="#1a1a1a">0.202</text>
<rect x="417.2" y="293.7" width="8.7" height="7.9" fill="#0000FF"/>
<text x="431.2" y="300.2" font-size="8" textLength="18.0" lengthAdjust="spacingAndGlyphs" fill="#1a1a1a">0.202</text>
<text x="456.2" y="299.3" font-size="6.8" text-anchor="middle" fill="#1a1a1a">–</text>
<text x="485.0" y="300.2" font-size="8" text-anchor="end" textLength="18.0" lengthAdjust="spacingAndGlyphs" fill="#1a1a1a">0.219</text>
<rect x="417.2" y="304.1" width="8.7" height="7.9" fill="#6E6EFF"/>
<text x="431.2" y="310.5" font-size="8" textLength="18.0" lengthAdjust="spacingAndGlyphs" fill="#1a1a1a">0.219</text>
<text x="456.2" y="309.6" font-size="6.8" text-anchor="middle" fill="#1a1a1a">–</text>
<text x="485.0" y="310.5" font-size="8" text-anchor="end" textLength="18.0" lengthAdjust="spacingAndGlyphs" fill="#1a1a1a">0.236</text>
<rect x="417.2" y="314.4" width="8.7" height="7.9" fill="#AAAAFF"/>
<text x="431.2" y="320.9" font-size="8" textLength="18.0" lengthAdjust="spacingAndGlyphs" fill="#1a1a1a">0.236</text>
<text x="456.2" y="320.0" font-size="6.8" text-anchor="middle" fill="#1a1a1a">–</text>
<text x="485.0" y="320.9" font-size="8" text-anchor="end" textLength="18.0" lengthAdjust="spacingAndGlyphs" fill="#1a1a1a">0.253</text>
<rect x="417.2" y="324.8" width="8.7" height="7.9" fill="#E6E6FF"/>
<text x="431.2" y="331.2" font-size="8" textLength="18.0" lengthAdjust="spacingAndGlyphs" fill="#1a1a1a">0.253</text>
<text x="456.2" y="330.4" font-size="6.8" text-anchor="middle" fill="#1a1a1a">–</text>
<text x="485.0" y="331.2" font-size="8" text-anchor="end" textLength="18.0" lengthAdjust="spacingAndGlyphs" fill="#1a1a1a">0.270</text>
<rect x="417.2" y="335.2" width="8.7" height="7.9" fill="#D2FFD2"/>
<text x="431.2" y="341.6" font-size="8" textLength="18.0" lengthAdjust="spacingAndGlyphs" fill="#1a1a1a">0.270</text>
<text x="456.2" y="340.7" font-size="6.8" text-anchor="middle" fill="#1a1a1a">–</text>
<text x="485.0" y="341.6" font-size="8" text-anchor="end" textLength="18.0" lengthAdjust="spacingAndGlyphs" fill="#1a1a1a">0.287</text>
<rect x="417.2" y="345.5" width="8.7" height="7.9" fill="#50FF50"/>
<text x="431.2" y="352.0" font-size="8" textLength="18.0" lengthAdjust="spacingAndGlyphs" fill="#1a1a1a">0.287</text>
<text x="456.2" y="351.1" font-size="6.8" text-anchor="middle" fill="#1a1a1a">–</text>
<text x="485.0" y="352.0" font-size="8" text-anchor="end" textLength="18.0" lengthAdjust="spacingAndGlyphs" fill="#1a1a1a">0.304</text>
<rect x="417.2" y="355.9" width="8.7" height="7.9" fill="#00D200"/>
<text x="431.2" y="362.3" font-size="8" textLength="18.0" lengthAdjust="spacingAndGlyphs" fill="#1a1a1a">0.304</text>
<text x="456.2" y="361.4" font-size="6.8" text-anchor="middle" fill="#1a1a1a">–</text>
<text x="485.0" y="362.3" font-size="8" text-anchor="end" textLength="18.0" lengthAdjust="spacingAndGlyphs" fill="#1a1a1a">0.321</text>
<rect x="417.2" y="366.2" width="8.7" height="7.9" fill="#009600"/>
<text x="431.2" y="372.7" font-size="8" textLength="18.0" lengthAdjust="spacingAndGlyphs" fill="#1a1a1a">0.321</text>
<text x="456.2" y="371.8" font-size="6.8" text-anchor="middle" fill="#1a1a1a">–</text>
<text x="485.0" y="372.7" font-size="8" text-anchor="end" textLength="18.0" lengthAdjust="spacingAndGlyphs" fill="#1a1a1a">0.338</text>
<rect x="417.2" y="376.6" width="8.7" height="7.9" fill="#006400"/>
<text x="431.2" y="383.1" font-size="8" textLength="18.0" lengthAdjust="spacingAndGlyphs" fill="#1a1a1a">0.338</text>
<text x="456.2" y="382.2" font-size="6.8" text-anchor="middle" fill="#1a1a1a">–</text>
<text x="485.0" y="383.1" font-size="8" text-anchor="end" textLength="18.0" lengthAdjust="spacingAndGlyphs" fill="#1a1a1a">0.355</text>
<rect x="417.2" y="387.0" width="8.7" height="7.9" fill="#003C00"/>
<text x="456.2" y="393.4" font-size="7.2" text-anchor="middle" fill="#1a1a1a">&gt;</text>
<text x="485.0" y="393.4" font-size="8" text-anchor="end" textLength="18.0" lengthAdjust="spacingAndGlyphs" fill="#1a1a1a">0.355</text>
<rect x="413.8" y="400.1" width="92.0" height="33.2" fill="#fff" stroke="#6a6a6a" stroke-width=".8"/>
<text x="459.7" y="409.8" font-size="8" text-anchor="middle" textLength="37.5" lengthAdjust="spacingAndGlyphs" fill="#1a1a1a">Hold Values</text>
<text x="418.9" y="420.0" font-size="8" textLength="61.4" lengthAdjust="spacingAndGlyphs" fill="#1a1a1a">Gas Pressure (Bar)</text>
<text x="500.2" y="420.0" font-size="8" text-anchor="end" textLength="10.0" lengthAdjust="spacingAndGlyphs" fill="#1a1a1a">0.9</text>
<text x="418.9" y="430.1" font-size="8" textLength="57.1" lengthAdjust="spacingAndGlyphs" fill="#1a1a1a">Focus Point (mm)</text>
<text x="500.2" y="430.1" font-size="8" text-anchor="end" textLength="4.0" lengthAdjust="spacingAndGlyphs" fill="#1a1a1a">2</text>
</svg>
</body></html>
